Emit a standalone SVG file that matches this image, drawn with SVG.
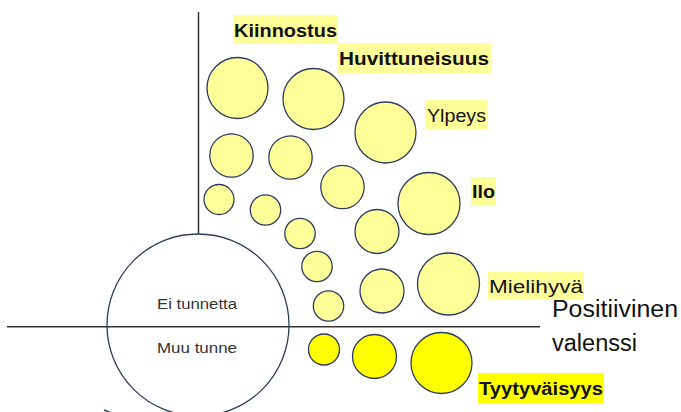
<svg xmlns="http://www.w3.org/2000/svg" width="681" height="412" viewBox="0 0 681 412">
<style>
.c{fill:#FFFF99;stroke:#2E3D5C;stroke-width:1.3}
.cb{fill:#FFFF00;stroke:#2E3D5C;stroke-width:1.3}
.hl{fill:#FFFF99}
.hb{fill:#FFFF00}
.t{font-family:"Liberation Sans",Arial,sans-serif;fill:#111}
.b{font-weight:bold;font-size:18px}
.n{font-size:18px}
.s{font-size:15.5px;fill:#333}
.ax{stroke:#333;stroke-width:1.5;fill:none}
</style>
<rect width="681" height="412" fill="#fff"/>
<g id="connectors">
<line class="ax" x1="198.5" y1="12" x2="198.5" y2="234"/>
<line class="ax" x1="7" y1="326.7" x2="540" y2="326.7"/>
<line x1="104" y1="410" x2="116" y2="415" stroke="#2E3D5C" stroke-width="1.5"/>
</g>
<g id="neutral">
<circle cx="198" cy="325" r="91" fill="none" stroke="#2E3D5C" stroke-width="1.3"/>
<text class="t s" x="197" y="309" text-anchor="middle" textLength="80" lengthAdjust="spacingAndGlyphs">Ei tunnetta</text>
<text class="t s" x="197" y="353" text-anchor="middle" textLength="80" lengthAdjust="spacingAndGlyphs">Muu tunne</text>
</g>
<g id="circles">
<circle class="c" cx="237.5" cy="88" r="30.5"/>
<circle class="c" cx="313.5" cy="99" r="30.5"/>
<circle class="c" cx="385.5" cy="132.5" r="30.5"/>
<circle class="c" cx="231.5" cy="155.5" r="21.7"/>
<circle class="c" cx="290.5" cy="157.5" r="21.7"/>
<circle class="c" cx="342.5" cy="187" r="21.7"/>
<circle class="c" cx="429" cy="203.5" r="31"/>
<circle class="c" cx="219" cy="199.5" r="15"/>
<circle class="c" cx="265.5" cy="210" r="15.2"/>
<circle class="c" cx="300" cy="233.5" r="15.2"/>
<circle class="c" cx="377" cy="231.5" r="22"/>
<circle class="c" cx="317" cy="266.5" r="15.2"/>
<circle class="c" cx="382" cy="291" r="22"/>
<circle class="c" cx="448.5" cy="284" r="31"/>
<circle class="c" cx="328.5" cy="306" r="15.2"/>
<circle class="cb" cx="324" cy="349.5" r="15.5"/>
<circle class="cb" cx="374.5" cy="356.5" r="22"/>
<circle class="cb" cx="441.5" cy="363" r="30.5"/>
</g>
<g id="labels">
<rect class="hl" x="233" y="15" width="105" height="29"/>
<text class="t b" x="234" y="37" textLength="103" lengthAdjust="spacingAndGlyphs">Kiinnostus</text>
<rect class="hl" x="338" y="43" width="153" height="30"/>
<text class="t b" x="339" y="65" textLength="150" lengthAdjust="spacingAndGlyphs">Huvittuneisuus</text>
<rect class="hl" x="425" y="100" width="62" height="29"/>
<text class="t n" x="427" y="122" textLength="59" lengthAdjust="spacingAndGlyphs">Ylpeys</text>
<rect class="hl" x="471" y="177" width="25" height="29"/>
<text class="t b" x="472" y="198" textLength="23" lengthAdjust="spacingAndGlyphs">Ilo</text>
<rect class="hl" x="488" y="272" width="96" height="27"/>
<text class="t n" x="489" y="293" textLength="94" lengthAdjust="spacingAndGlyphs">Mielihyvä</text>
<rect class="hb" x="478" y="373" width="126" height="30"/>
<text class="t b" x="479" y="395" textLength="124" lengthAdjust="spacingAndGlyphs">Tyytyväisyys</text>
<text class="t" x="552" y="317" font-size="23.5" textLength="126" lengthAdjust="spacingAndGlyphs">Positiivinen</text>
<text class="t" x="552" y="351" font-size="23.5" textLength="85" lengthAdjust="spacingAndGlyphs">valenssi</text>
</g>
</svg>
